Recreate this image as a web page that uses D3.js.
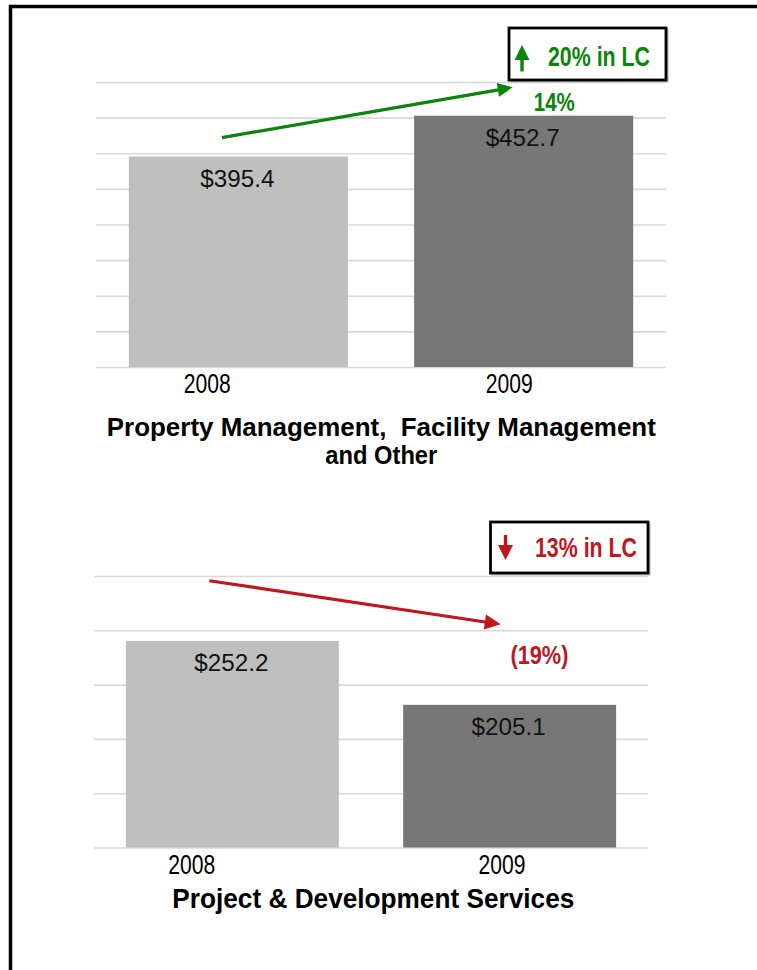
<!DOCTYPE html>
<html>
<head>
<meta charset="utf-8">
<script src="https://cdn.jsdelivr.net/npm/d3@7"></script>
<style>
  html, body { margin: 0; padding: 0; background: #ffffff; }
  svg { display: block; }
</style>
</head>
<body>
<div id="chart"></div>
<script>
// ---------------- DATA ----------------
const years = ["2008", "2009"];
const pmValues = [395.4, 452.7];          // Property Mgmt, Facility Mgmt and Other
const pdsValues = [252.2, 205.1];         // Project & Development Services
const pmTicks = [100, 150, 200, 250, 300, 350, 400, 450, 500];
const pdsTicks = [100, 140, 180, 220, 260, 300];
const pmGrowth = "14%";
const pmLocalCurrency = "20% in LC";
const pdsGrowth = "(19%)";
const pdsLocalCurrency = "13% in LC";
const pmTitle = ["Property Management,\u00a0 Facility Management", "and Other"];
const pdsTitle = ["Project & Development Services"];

// ---------------- STYLE ----------------
const W = 757, H = 970;
const barColors = ["#bfbfbf", "#777777"];
const gridColor = "#d9d9d9";
const GREEN = "#0a850a";
const RED = "#c0161f";
const NARROW = "'Liberation Sans Narrow','Arial Narrow','Liberation Sans',Arial,sans-serif";
const REG = "'Liberation Sans',Arial,Helvetica,sans-serif";

const svg = d3.select("#chart").append("svg")
  .attr("width", W).attr("height", H);

svg.append("rect").attr("width", W).attr("height", H).attr("fill", "#fff");

// outer frame (only top and left edges visible)
svg.append("rect")
  .attr("x", 10.5).attr("y", 6.5)
  .attr("width", 900).attr("height", 1100)
  .attr("fill", "none").attr("stroke", "#000").attr("stroke-width", 3.5);

function drawArrow(g, x1, y1, x2, y2, color, headLen, headHalf, sw) {
  const dx = x2 - x1, dy = y2 - y1, L = Math.hypot(dx, dy);
  const ux = dx / L, uy = dy / L, px = -uy, py = ux;
  const bx = x2 - ux * headLen, by = y2 - uy * headLen;
  g.append("line").attr("x1", x1).attr("y1", y1).attr("x2", bx + ux * 2).attr("y2", by + uy * 2)
    .attr("stroke", color).attr("stroke-width", sw);
  g.append("path")
    .attr("d", `M${x2},${y2}L${bx + px * headHalf},${by + py * headHalf}L${bx - px * headHalf},${by - py * headHalf}Z`)
    .attr("fill", color);
}

function drawPanel(cfg) {
  const g = svg.append("g");
  const y = d3.scaleLinear().domain(cfg.yDomain).range(cfg.yRange);
  const x = d3.scaleBand().domain(years).range(cfg.xRange)
    .paddingInner(0.232).paddingOuter(0.115);
  const xl = d3.scalePoint().domain(years).range(cfg.labelRange);
  const bw = x.bandwidth();

  // gridlines
  const grid = g.append("g")
    .attr("transform", `translate(${cfg.xRange[0]},0)`)
    .call(d3.axisLeft(y).tickValues(cfg.ticks).tickSize(-(cfg.xRange[1] - cfg.xRange[0])).tickFormat(""));
  grid.select(".domain").remove();
  grid.selectAll(".tick line").attr("stroke", gridColor).attr("stroke-width", 1.6);

  // bars
  g.selectAll("rect.bar").data(cfg.values).join("rect")
    .attr("class", "bar")
    .attr("x", (d, i) => x(years[i]))
    .attr("y", d => y(d))
    .attr("width", bw)
    .attr("height", d => y(cfg.yDomain[0]) - y(d))
    .attr("fill", (d, i) => barColors[i]);

  // value labels
  g.selectAll("text.val").data(cfg.values).join("text")
    .attr("class", "val")
    .attr("x", (d, i) => x(years[i]) + bw / 2 - 1)
    .attr("y", d => y(d) + 30)
    .attr("text-anchor", "middle")
    .attr("font-family", REG).attr("font-size", 23).attr("fill", "#111")
    .attr("textLength", 74).attr("lengthAdjust", "spacingAndGlyphs")
    .text(d => "$" + d.toFixed(1));

  // category axis
  const ax = g.append("g")
    .attr("transform", `translate(0,${cfg.catBaseline})`)
    .call(d3.axisBottom(xl).tickSize(0).tickPadding(0));
  ax.select(".domain").remove();
  ax.selectAll(".tick text")
    .attr("dy", 0).attr("y", 0)
    .attr("font-family", NARROW).attr("font-size", 27).attr("fill", "#000")
    .attr("textLength", 47).attr("lengthAdjust", "spacingAndGlyphs");

  // trend arrow
  const a = cfg.arrow;
  drawArrow(g,
    x(years[0]) + bw * a.fromFrac, y(a.fromVal),
    x(years[1]) + bw * a.toFrac, y(a.toVal),
    cfg.color, a.headLen, a.headHalf, 3.2);

  // growth label
  g.append("text")
    .attr("x", x(years[1]) + bw * 0.64)
    .attr("y", cfg.growthY(y))
    .attr("text-anchor", "middle")
    .attr("font-family", NARROW).attr("font-weight", "bold").attr("font-size", 26)
    .attr("fill", cfg.color)
    .attr("textLength", cfg.growthLen).attr("lengthAdjust", "spacingAndGlyphs")
    .text(cfg.growth);

  // LC box
  const b = cfg.box;
  const bx = cfg.xRange[1] - b.w, by = cfg.yRange[1] - b.h - b.gap;
  g.append("rect").attr("x", bx + 1.5).attr("y", by + 1.5).attr("width", b.w).attr("height", b.h)
    .attr("fill", "none").attr("stroke", "#bbbbbb").attr("stroke-width", 2);
  g.append("rect").attr("x", bx).attr("y", by).attr("width", b.w).attr("height", b.h)
    .attr("fill", "#fff").attr("stroke", "#000").attr("stroke-width", 2.8);
  // icon arrow
  const cx = bx + b.iconX, t = by + b.iconTop, e = by + b.iconBottom;
  const hl = 15, hw = 7.5;
  if (cfg.dir === "up") {
    g.append("line").attr("x1", cx).attr("x2", cx).attr("y1", t + hl - 1).attr("y2", e)
      .attr("stroke", cfg.color).attr("stroke-width", 3.4);
    g.append("path").attr("d", `M${cx},${t}L${cx - hw},${t + hl}L${cx + hw},${t + hl}Z`).attr("fill", cfg.color);
  } else {
    g.append("line").attr("x1", cx).attr("x2", cx).attr("y1", t).attr("y2", e - hl + 1)
      .attr("stroke", cfg.color).attr("stroke-width", 3.4);
    g.append("path").attr("d", `M${cx},${e}L${cx - hw},${e - hl}L${cx + hw},${e - hl}Z`).attr("fill", cfg.color);
  }
  g.append("text")
    .attr("x", bx + b.textX).attr("y", by + b.textBase)
    .attr("font-family", NARROW).attr("font-weight", "bold").attr("font-size", 27)
    .attr("fill", cfg.color)
    .attr("textLength", 102).attr("lengthAdjust", "spacingAndGlyphs")
    .text(cfg.lc);

  // title
  g.selectAll("text.title").data(cfg.title).join("text")
    .attr("class", "title")
    .attr("x", cfg.titleX)
    .attr("y", (d, i) => cfg.titleY + i * 28.3)
    .attr("text-anchor", "middle")
    .attr("font-family", NARROW).attr("font-weight", "bold").attr("font-size", cfg.titleSize)
    .attr("fill", "#000")
    .attr("textLength", (d, i) => cfg.titleLens[i]).attr("lengthAdjust", "spacingAndGlyphs")
    .text(d => d);
}

drawPanel({
  values: pmValues, ticks: pmTicks,
  yDomain: [100, 500], yRange: [367, 82],
  xRange: [96, 666], labelRange: [206.7, 508.7], catBaseline: 392.5,
  color: GREEN, dir: "up",
  arrow: { fromFrac: 0.425, fromVal: 422, toFrac: 0.45, toVal: 492.5, headLen: 15, headHalf: 7 },
  growth: pmGrowth, growthLen: 41, growthY: y => y(pmValues[1]) - 5,
  lc: pmLocalCurrency,
  box: { w: 157, h: 52, gap: 2, iconX: 13, iconTop: 17, iconBottom: 43.5, textX: 39, textBase: 38 },
  title: pmTitle, titleX: 381.3, titleY: 436, titleSize: 26, titleLens: [549, 112]
});

drawPanel({
  values: pdsValues, ticks: pdsTicks,
  yDomain: [100, 300], yRange: [847.5, 576],
  xRange: [94, 648], labelRange: [191.3, 501.5], catBaseline: 873.5,
  color: RED, dir: "down",
  arrow: { fromFrac: 0.392, fromVal: 296.5, toFrac: 0.458, toVal: 264.4, headLen: 16, headHalf: 7.5 },
  growth: pdsGrowth, growthLen: 58, growthY: y => y(pdsValues[0]) + 23.5,
  lc: pdsLocalCurrency,
  box: { w: 157.5, h: 51, gap: 3, iconX: 15, iconTop: 13, iconBottom: 38, textX: 44.5, textBase: 34.5 },
  title: pdsTitle, titleX: 373.3, titleY: 908.3, titleSize: 28, titleLens: [402]
});
</script>
</body>
</html>
